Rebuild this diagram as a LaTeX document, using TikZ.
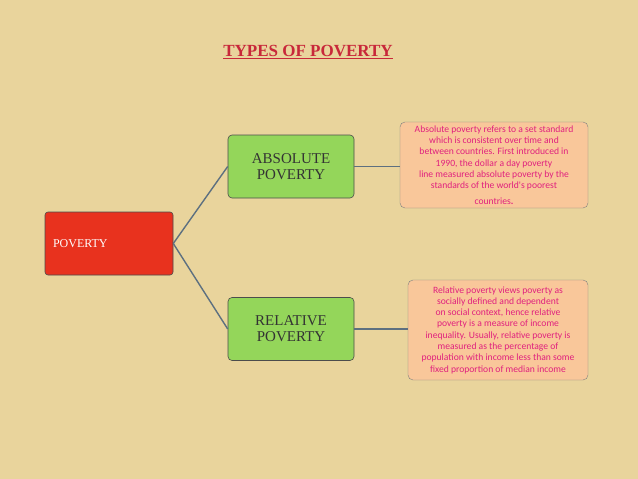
\documentclass[tikz,border=0pt]{standalone}
\usepackage{fontspec}
\setmainfont{Liberation Serif}
\newfontfamily\carl{Carlito}
\definecolor{bg}{HTML}{E9D49C}
\definecolor{grn}{HTML}{94D65A}
\definecolor{redb}{HTML}{E8321E}
\definecolor{peach}{HTML}{F9C79A}
\definecolor{pinkt}{HTML}{E0207E}
\definecolor{ttl}{HTML}{C8283A}
\definecolor{ln}{HTML}{5D7080}
\tikzset{
  boxg/.style={draw=black!70,fill=grn,rounded corners=4pt,minimum width=126pt,minimum height=63pt,align=center,font=\fontsize{15}{16}\selectfont,text=black!80,line width=0.6pt},
  boxr/.style={draw=black!70,fill=redb,rounded corners=3pt,minimum width=128pt,minimum height=63pt,text width=112pt,font=\fontsize{12}{14}\selectfont,text=white,line width=0.6pt},
  txt/.style={draw=black!50,fill=peach,rounded corners=5pt,align=center,text=pinkt,font=\carl\fontsize{9.6}{11.3}\selectfont,inner sep=1pt},
  con/.style={draw=ln,line width=1.4pt}
}
\begin{document}
\begin{tikzpicture}[x=1pt,y=-1pt]
\fill[bg] (0,0) rectangle (638,479);
\useasboundingbox (0,0) rectangle (638,479);
\node[font=\bfseries\fontsize{17}{19}\selectfont,text=ttl] (t) at (308,52) {\underline{TYPES OF POVERTY}};
\node[boxr] (p) at (109,243.5) {POVERTY};
\node[boxg] (a) at (291,166.5) {ABSOLUTE\\POVERTY};
\node[boxg] (r) at (291,329) {RELATIVE\\POVERTY};
\node[txt,minimum width=188pt,minimum height=86pt] (at) at (494,165) {Absolute poverty refers to a set standard\\which is consistent over time and\\between countries. First introduced in\\1990, the dollar a day poverty\\line measured absolute poverty by the\\standards of the world's poorest\\[4pt]countries\textbf{.}};
\node[txt,minimum width=180pt,minimum height=100pt] (rt) at (498,330) {Relative poverty views poverty as\\socially defined and dependent\\on social context, hence relative\\poverty is a measure of income\\inequality. Usually, relative poverty is\\measured as the percentage of\\population with income less than some\\fixed proportion of median income};
\draw[con] (p.east) -- (a.west);
\draw[con] (p.east) -- (r.west);
\draw[con] (a.east) -- (at.west|-a.east);
\draw[con] (r.east) -- (rt.west|-r.east);
\end{tikzpicture}
\end{document}
